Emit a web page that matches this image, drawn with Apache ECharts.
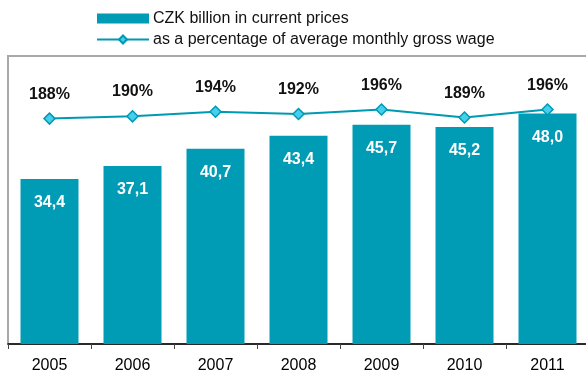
<!DOCTYPE html>
<html>
<head>
<meta charset="utf-8">
<script src="https://cdn.jsdelivr.net/npm/echarts@6/dist/echarts.min.js"></script>
<style>
  html, body { margin: 0; padding: 0; background: #fff; }
  #chart { width: 586px; height: 371px; }
</style>
</head>
<body>
<div id="chart"></div>
<script>
// Years on the category axis
const years = ['2005', '2006', '2007', '2008', '2009', '2010', '2011'];
// CZK billion in current prices
const czkBillion = [34.4, 37.1, 40.7, 43.4, 45.7, 45.2, 48.0];
// As a percentage of average monthly gross wage
const wagePercent = [188, 190, 194, 192, 196, 189, 196];

const barName = 'CZK billion in current prices';
const lineName = 'as a percentage of average monthly gross wage';

const chart = echarts.init(document.getElementById('chart'), null, { renderer: 'canvas' });

chart.setOption({
  animation: false,
  backgroundColor: '#ffffff',
  textStyle: { fontFamily: 'Liberation Sans, Arial, sans-serif' },
  legend: {
    orient: 'vertical',
    left: 96,
    top: 8,
    itemWidth: 52,
    itemHeight: 10,
    itemGap: 0,
    padding: 0,
    textStyle: { fontSize: 16, color: '#111', lineHeight: 21, padding: [0, 0, 0, -1] },
    data: [
      { name: barName, icon: 'rect' },
      { name: lineName }
    ]
  },
  grid: {
    left: 8,
    width: 581,
    top: 56,
    bottom: 27,
    outerBoundsMode: 'none',
    containLabel: false,
    show: true,
    borderColor: '#A8A8A8',
    borderWidth: 2,
    backgroundColor: 'transparent'
  },
  xAxis: {
    type: 'category',
    data: years,
    boundaryGap: true,
    axisLine: { lineStyle: { color: '#000', width: 1.5 } },
    axisTick: { show: true, length: 5, lineStyle: { color: '#444' } },
    axisLabel: { fontSize: 16, color: '#000', margin: 14 }
  },
  yAxis: [
    { type: 'value', min: 0, max: 60, show: false, splitLine: { show: false } },
    { type: 'value', min: -10, max: 243, show: false, splitLine: { show: false } }
  ],
  series: [
    {
      name: barName,
      type: 'bar',
      yAxisIndex: 0,
      data: czkBillion,
      barWidth: 58,
      itemStyle: { color: '#009BB4' },
      label: {
        show: true,
        position: 'insideTop',
        distance: 16,
        color: '#fff',
        fontWeight: 'bold',
        fontSize: 16,
        formatter: p => p.value.toFixed(1).replace('.', ',')
      }
    },
    {
      name: lineName,
      type: 'line',
      yAxisIndex: 1,
      data: wagePercent,
      symbol: 'diamond',
      symbolSize: 11,
      lineStyle: { color: '#0099B2', width: 2 },
      itemStyle: { color: '#45CFEE', borderColor: '#0099B2', borderWidth: 1.5 },
      label: {
        show: true,
        position: 'top',
        distance: 10,
        color: '#111',
        fontWeight: 'bold',
        fontSize: 16,
        formatter: p => p.value + '%'
      }
    }
  ]
});
</script>
</body>
</html>
